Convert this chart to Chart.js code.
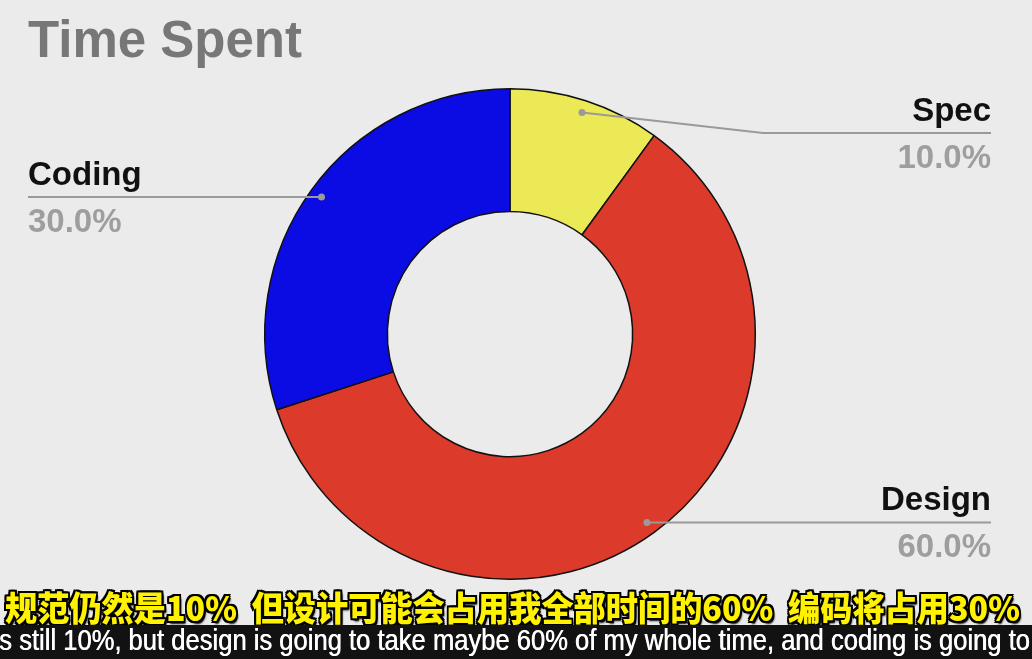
<!DOCTYPE html>
<html>
<head>
<meta charset="utf-8">
<script src="https://cdn.jsdelivr.net/npm/chart.js@4.4.1/dist/chart.umd.min.js"></script>
<style>
  html, body { margin: 0; padding: 0; background: #ebebeb; overflow: hidden; }
  #wrap { position: relative; width: 1032px; height: 659px; }
  #sub-zh {
    position: absolute; left: 0; top: 587px; white-space: pre;
    font-family: "Noto Sans CJK SC", sans-serif; font-weight: 900; font-size: 34px; line-height: 40px;
    color: #fff200; transform-origin: 0 0;
    text-shadow: -2px -2px 0 #000, 2px -2px 0 #000, -2px 2px 0 #000, 2px 2px 0 #000,
                 0 -2px 0 #000, 0 2px 0 #000, -2px 0 0 #000, 2px 0 0 #000, 2px 3px 2px #000;
  }
  #band { position: absolute; left: 0; top: 625px; width: 1032px; height: 34px; background: #121212; }
  #sub-en {
    position: absolute; left: 0; top: 623px; white-space: pre;
    font-family: "Liberation Sans Narrow", "Liberation Sans", sans-serif; font-size: 29px; line-height: 34px;
    color: #ffffff; transform-origin: 0 0;
    text-shadow: 0.6px 0 0 #fff;
  }
</style>
</head>
<body>
<div id="wrap">
  <canvas id="c" width="1032" height="659"></canvas>
  <div id="sub-zh">规范仍然是10%  但设计可能会占用我全部时间的60%  编码将占用30%</div>
  <div id="band"></div>
  <div id="sub-en">s still 10%, but design is going to take maybe 60% of my whole time, and coding is going to</div>
</div>
<script>
const chartTitle = 'Time Spent';
const categories = ['Spec', 'Design', 'Coding'];
const values = [10, 60, 30];
const sliceColors = ['#ebe955', '#dc3a2a', '#0b0be3'];

const labelPlugin = {
  id: 'sideLabels',
  afterDatasetsDraw(chart) {
    const ctx = chart.ctx;
    ctx.save();
    ctx.font = 'bold 51px "Liberation Sans", Arial, sans-serif';
    ctx.fillStyle = '#777777';
    ctx.textAlign = 'left';
    ctx.textBaseline = 'alphabetic';
    ctx.fillText(chartTitle, 28, 57);

    const meta = chart.getDatasetMeta(0);
    const total = values.reduce((a, b) => a + b, 0);
    const leftEdge = 28, rightEdge = 991, minLineY = 133;
    meta.data.forEach((arc, i) => {
      const p = arc.getProps(['x', 'y', 'startAngle', 'endAngle', 'outerRadius'], true);
      const mid = (p.startAngle + p.endAngle) / 2;
      const r = p.outerRadius * 0.95;
      const dx = p.x + Math.cos(mid) * r;
      const dy = p.y + Math.sin(mid) * r;
      const right = Math.cos(mid) >= 0;
      const edge = right ? rightEdge : leftEdge;
      const lineY = Math.max(dy, minLineY);
      ctx.strokeStyle = '#9a9a9a';
      ctx.lineWidth = 2;
      ctx.beginPath();
      ctx.moveTo(dx, dy);
      if (lineY !== dy) {
        const elbowX = right ? edge - 228 : edge + 228;
        ctx.lineTo(elbowX, lineY);
      }
      ctx.lineTo(edge, lineY);
      ctx.stroke();
      ctx.fillStyle = '#9a9a9a';
      ctx.beginPath();
      ctx.arc(dx, dy, 3.5, 0, Math.PI * 2);
      ctx.fill();

      ctx.textAlign = right ? 'right' : 'left';
      ctx.font = 'bold 33px "Liberation Sans", Arial, sans-serif';
      ctx.fillStyle = '#111111';
      ctx.fillText(categories[i], edge, lineY - 12);
      ctx.fillStyle = '#9e9e9e';
      ctx.fillText((values[i] / total * 100).toFixed(1) + '%', edge, lineY + 35);
    });
    ctx.restore();
  }
};

new Chart(document.getElementById('c'), {
  type: 'doughnut',
  data: {
    labels: categories,
    datasets: [{
      data: values,
      backgroundColor: sliceColors,
      borderColor: '#111111',
      borderWidth: 1.5,
      hoverOffset: 0
    }]
  },
  options: {
    responsive: false,
    animation: false,
    events: [],
    cutout: '50%',
    layout: { padding: { top: 88, bottom: 79, left: 264, right: 276 } },
    plugins: { legend: { display: false }, tooltip: { enabled: false }, title: { display: false } }
  },
  plugins: [labelPlugin]
});

function fit(id, x0, x1) {
  const el = document.getElementById(id);
  const w = el.scrollWidth;
  const s = (x1 - x0) / w;
  el.style.left = x0 + 'px';
  el.style.transform = 'scaleX(' + s + ')';
}
function fitAll() { fit('sub-zh', 5, 1020); fit('sub-en', -1, 1030); }
fitAll();
if (document.fonts && document.fonts.ready) document.fonts.ready.then(fitAll);
</script>
</body>
</html>
